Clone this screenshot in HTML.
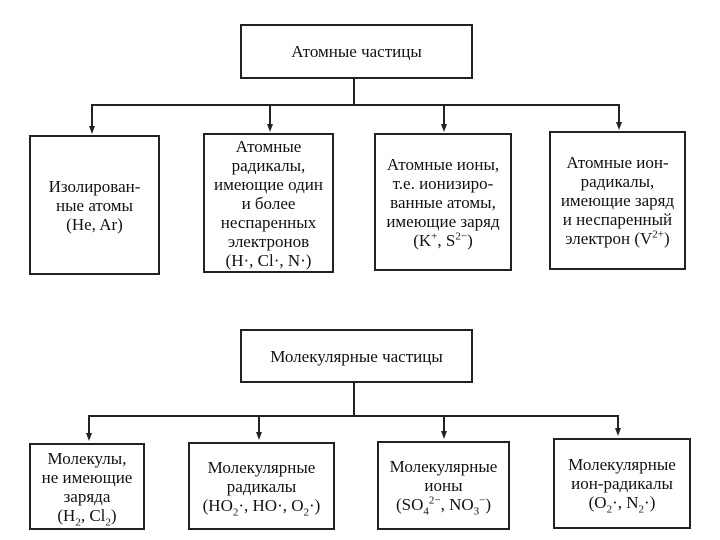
<!DOCTYPE html>
<html><head><meta charset="utf-8"><style>
body{margin:0;width:720px;height:540px;background:#fff;position:relative;overflow:hidden;font-family:"Liberation Serif",serif;color:#111}
.b{position:absolute;border:2px solid #222;box-sizing:border-box;display:flex;align-items:center;justify-content:center;text-align:center;font-size:17px;line-height:19px;white-space:nowrap}
.b>div{display:block}
.l{position:absolute;background:#222}
.a{position:absolute;width:0;height:0;border-left:3px solid transparent;border-right:3px solid transparent;border-top:8px solid #222}
sup,sub{font-size:11px;line-height:0}
</style></head><body>
<div class="b" style="left:240px;top:24px;width:233px;height:55px"><div>Атомные частицы</div></div>
<div class="l" style="left:353px;top:78px;width:1.5px;height:27px"></div>
<div class="l" style="left:92px;top:104px;width:528px;height:1.5px"></div>
<div class="l" style="left:91px;top:104px;width:1.5px;height:24px"></div><div class="a" style="left:89px;top:126px"></div>
<div class="l" style="left:269px;top:104px;width:1.5px;height:22px"></div><div class="a" style="left:267px;top:124px"></div>
<div class="l" style="left:443px;top:104px;width:1.5px;height:22px"></div><div class="a" style="left:441px;top:124px"></div>
<div class="l" style="left:618px;top:104px;width:1.5px;height:20px"></div><div class="a" style="left:616px;top:122px"></div>
<div class="b" style="left:29px;top:135px;width:131px;height:140px"><div>Изолирован-<br>ные атомы<br>(He, Ar)</div></div>
<div class="b" style="left:203px;top:133px;width:131px;height:140px"><div>Атомные<br>радикалы,<br>имеющие один<br>и более<br>неспаренных<br>электронов<br>(H·, Cl·, N·)</div></div>
<div class="b" style="left:374px;top:133px;width:138px;height:138px"><div>Атомные ионы,<br>т.е. ионизиро-<br>ванные атомы,<br>имеющие заряд<br>(K<sup>+</sup>, S<sup>2−</sup>)</div></div>
<div class="b" style="left:549px;top:131px;width:137px;height:139px"><div>Атомные ион-<br>радикалы,<br>имеющие заряд<br>и неспаренный<br>электрон (V<sup>2+</sup>)</div></div>

<div class="b" style="left:240px;top:329px;width:233px;height:54px"><div>Молекулярные частицы</div></div>
<div class="l" style="left:353px;top:382px;width:1.5px;height:34px"></div>
<div class="l" style="left:89px;top:415px;width:530px;height:1.5px"></div>
<div class="l" style="left:88px;top:415px;width:1.5px;height:20px"></div><div class="a" style="left:86px;top:433px"></div>
<div class="l" style="left:258px;top:415px;width:1.5px;height:19px"></div><div class="a" style="left:256px;top:432px"></div>
<div class="l" style="left:443px;top:415px;width:1.5px;height:18px"></div><div class="a" style="left:441px;top:431px"></div>
<div class="l" style="left:617px;top:415px;width:1.5px;height:15px"></div><div class="a" style="left:615px;top:428px"></div>
<div class="b" style="left:29px;top:443px;width:116px;height:87px"><div>Молекулы,<br>не имеющие<br>заряда<br>(H<sub>2</sub>, Cl<sub>2</sub>)</div></div>
<div class="b" style="left:188px;top:442px;width:147px;height:88px"><div>Молекулярные<br>радикалы<br>(HO<sub>2</sub>·, HO·, O<sub>2</sub>·)</div></div>
<div class="b" style="left:377px;top:441px;width:133px;height:89px"><div>Молекулярные<br>ионы<br>(SO<sub>4</sub><sup>2−</sup>, NO<sub>3</sub><sup>−</sup>)</div></div>
<div class="b" style="left:553px;top:438px;width:138px;height:91px"><div>Молекулярные<br>ион-радикалы<br>(O<sub>2</sub>·, N<sub>2</sub>·)</div></div>
</body></html>
